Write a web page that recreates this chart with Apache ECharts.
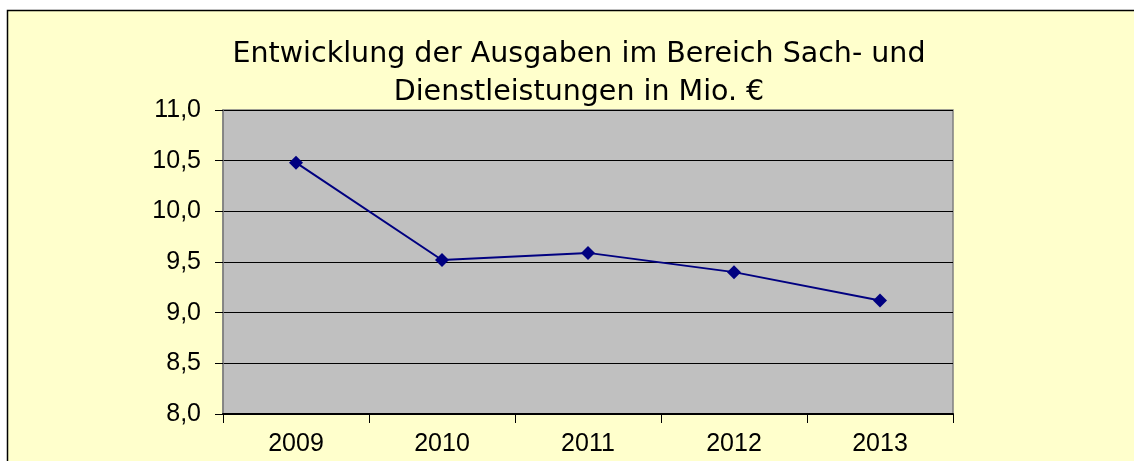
<!DOCTYPE html>
<html>
<head>
<meta charset="utf-8">
<script src="https://cdn.jsdelivr.net/npm/echarts@6/dist/echarts.min.js"></script>
<style>
  html, body { margin: 0; padding: 0; background: #fff; }
  #chart { width: 1134px; height: 461px; }
</style>
</head>
<body>
<div id="chart"></div>
<script>
// Daten
const years = ['2009', '2010', '2011', '2012', '2013']
const ausgaben = [10.48, 9.52, 9.59, 9.40, 9.12]
const titleText = 'Entwicklung der Ausgaben im Bereich Sach- und\nDienstleistungen in Mio. €'

const chart = echarts.init(document.getElementById('chart'))

const option = {
  backgroundColor: '#ffffff',
  animation: false,
  graphic: [
    {
      type: 'rect',
      z: -10,
      shape: { x: 7.5, y: 10.5, width: 1140, height: 470 },
      style: { fill: '#FFFFCC', stroke: '#000', lineWidth: 1.5 }
    }
  ],
  title: {
    text: titleText,
    left: 574,
    top: 31,
    textAlign: 'center',
    textStyle: {
      fontFamily: 'DejaVu Sans, sans-serif',
      fontSize: 28.5,
      fontWeight: 'normal',
      color: '#000',
      lineHeight: 38
    }
  },
  grid: {
    left: 223,
    right: 181,
    top: 110,
    bottom: 47,
    show: true,
    backgroundColor: '#C0C0C0',
    borderColor: '#808080',
    borderWidth: 1.5
  },
  xAxis: {
    type: 'category',
    data: years,
    boundaryGap: true,
    axisLine: { lineStyle: { color: '#000', width: 2 } },
    axisTick: { show: true, length: 9, lineStyle: { color: '#000', width: 1 } },
    axisLabel: {
      fontFamily: 'Liberation Sans, Arial, sans-serif',
      fontSize: 25,
      color: '#000',
      margin: 18
    }
  },
  yAxis: {
    type: 'value',
    min: 8,
    max: 11,
    interval: 0.5,
    axisLine: { show: true, lineStyle: { color: '#808080', width: 1.5 } },
    axisTick: { show: true, length: 8, lineStyle: { color: '#000', width: 1 } },
    splitLine: { show: true, lineStyle: { color: '#000', width: 1 } },
    axisLabel: {
      fontFamily: 'Liberation Sans, Arial, sans-serif',
      fontSize: 25,
      color: '#000',
      margin: 22,
      formatter: v => v.toFixed(1).replace('.', ',')
    }
  },
  series: [
    {
      type: 'line',
      data: ausgaben,
      symbol: 'diamond',
      symbolSize: 14,
      lineStyle: { color: '#000080', width: 2 },
      itemStyle: { color: '#000080' }
    }
  ]
}

chart.setOption(option)
</script>
</body>
</html>
